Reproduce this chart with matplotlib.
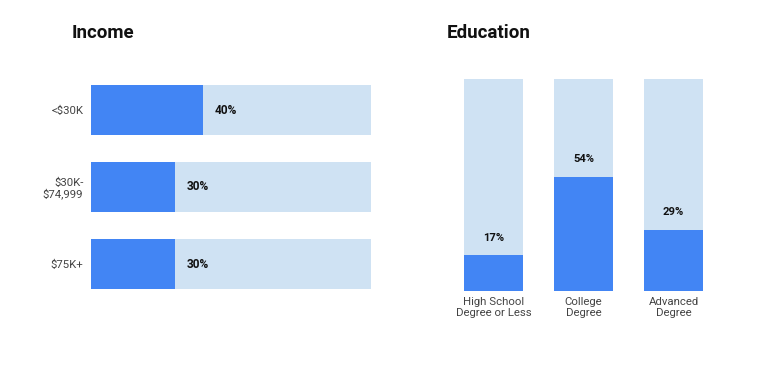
import matplotlib
matplotlib.use("Agg")
import matplotlib.pyplot as plt

plt.rcParams['font.family'] = ['Roboto', 'DejaVu Sans']

income_labels = ["<$30K", "$30K-\n$74,999", "$75K+"]
income_values = [40, 30, 30]

edu_labels = ["High School\nDegree or Less", "College\nDegree", "Advanced\nDegree"]
edu_values = [17, 54, 29]

DARK = "#4285F4"
LIGHT = "#CFE2F3"
TICK_COLOR = "#444444"

W, H = 784, 373
fig = plt.figure(figsize=(W / 100, H / 100), dpi=100)

# ---- Income (horizontal) ----
axL = fig.add_axes([91 / W, (H - 289) / H, 280 / W, 204 / H])
bh = 50 / 77
pos = list(range(len(income_labels)))
axL.barh(pos, [100] * len(pos), height=bh, color=LIGHT, linewidth=0)
axL.barh(pos, income_values, height=bh, color=DARK, linewidth=0)
axL.set_xlim(0, 100)
axL.set_ylim(2 + 25 / 77, -25 / 77)
axL.set_yticks(pos)
axL.set_yticklabels(income_labels, fontsize=8.2, color=TICK_COLOR, linespacing=1.1)
axL.tick_params(axis='y', length=0, pad=5.5)
axL.set_xticks([])
for s in axL.spines.values():
    s.set_visible(False)
for p, v in zip(pos, income_values):
    axL.annotate(f"{v}%", xy=(v, p), xytext=(8.6, 0), textcoords="offset points",
                 ha="left", va="center", fontsize=8.6, fontweight="bold", color="#111111")

# ---- Education (vertical) ----
axR = fig.add_axes([464 / W, (H - 291) / H, 239 / W, 212 / H])
bw = 59 / 90
pos2 = list(range(len(edu_labels)))
axR.bar(pos2, [100] * len(pos2), width=bw, color=LIGHT, linewidth=0)
axR.bar(pos2, edu_values, width=bw, color=DARK, linewidth=0)
axR.set_ylim(0, 100)
axR.set_xlim(-bw / 2, 2 + bw / 2)
axR.set_xticks(pos2)
axR.set_xticklabels(edu_labels, fontsize=8.2, color=TICK_COLOR, linespacing=1.05)
axR.tick_params(axis='x', length=0, pad=4.5)
axR.set_yticks([])
for s in axR.spines.values():
    s.set_visible(False)
for p, v in zip(pos2, edu_values):
    axR.annotate(f"{v}%", xy=(p, v), xytext=(0, 12.3), textcoords="offset points",
                 ha="center", va="center", fontsize=8.1, fontweight="bold", color="#111111")

# ---- Titles ----
fig.text(72 / W, 1 - 33 / H, "Income", fontsize=13.5, fontweight="bold", color="#111111",
         ha="left", va="center")
fig.text(447 / W, 1 - 33 / H, "Education", fontsize=13.5, fontweight="bold", color="#111111",
         ha="left", va="center")

fig.savefig("out.png", dpi=100)
